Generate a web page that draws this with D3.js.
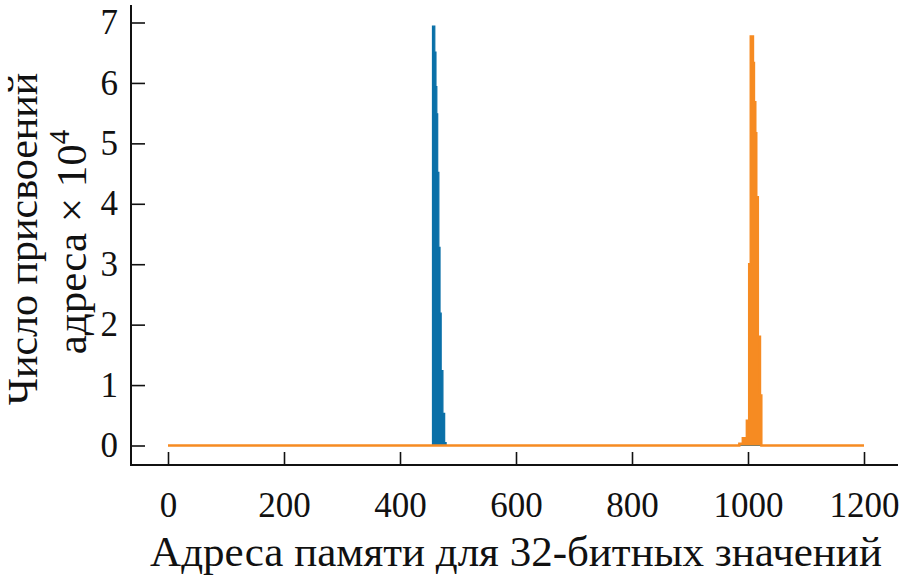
<!DOCTYPE html>
<html>
<head>
<meta charset="utf-8">
<script src="https://cdn.jsdelivr.net/npm/d3@7"></script>
<style>
  html, body { margin: 0; padding: 0; background: #fff; }
  svg { display: block; }
  text { font-family: "Liberation Serif", "Times New Roman", serif; fill: #111; }
</style>
</head>
<body>
<svg id="chart" width="904" height="583"></svg>
<script>
// ---- data (counts in units of 10^4) ----
const xTickValues = [0, 200, 400, 600, 800, 1000, 1200];
const yTickValues = [0, 1, 2, 3, 4, 5, 6, 7];

// blue series: step start addresses and counts
const blueAddr = [0, 456, 460, 462, 463.5, 465, 467, 469, 471, 474, 477, 479.5, 1200];
const blueVal  = [0, 6.94, 6.51, 5.94, 5.49, 4.52, 3.28, 2.19, 1.24, 0.53, 0.05, 0, 0];

// orange series
const orangeAddr = [0, 985, 991, 998, 1002, 1004.7, 1008.6, 1010.3, 1012.6, 1014.3, 1017, 1020.7, 1023, 1200];
const orangeVal  = [0, 0.03, 0.12, 0.41, 3.0, 6.77, 6.33, 5.68, 5.17, 4.11, 1.8, 0.83, 0, 0];

const xTitle = "Адреса памяти для 32-битных значений";
const yTitle1 = "Число присвоений";
const yTitle2 = "адреса × 10";
const yTitleSup = "4";

const blueColor = "#0a70a8";
const orangeColor = "#f68b22";

// ---- layout ----
const svg = d3.select("#chart");
const axisLeftX = 131, axisBottomY = 465, axisTopY = 5, axisRightX = 898;

const x = d3.scaleLinear().domain([0, 1200]).range([168, 864]);
const y = d3.scaleLinear().domain([0, 7]).range([445.5, 22.5]);

function series(addr, val) {
  return addr.map((a, i) => ({ a, v: val[i] }));
}

const area = d3.area()
  .x(d => x(d.a))
  .y0(y(0))
  .y1(d => y(d.v))
  .curve(d3.curveStepAfter);
const line = d3.line()
  .x(d => x(d.a))
  .y(d => y(d.v))
  .curve(d3.curveStepAfter);

const blue = series(blueAddr, blueVal);
const orange = series(orangeAddr, orangeVal);

svg.append("path").datum(blue).attr("d", area).attr("fill", blueColor);
svg.append("path").datum(blue).attr("d", line).attr("fill", "none")
  .attr("stroke", blueColor).attr("stroke-width", 1.2);
svg.append("path").datum(orange).attr("d", area).attr("fill", orangeColor);
svg.append("path").datum(orange).attr("d", line).attr("fill", "none")
  .attr("stroke", orangeColor).attr("stroke-width", 2.4);

// ---- axes ----
const yAxis = d3.axisLeft(y).tickValues(yTickValues).tickFormat(d3.format("d"))
  .tickSizeInner(-14).tickSizeOuter(0).tickPadding(13);
const gy = svg.append("g").attr("transform", `translate(${axisLeftX},0)`).call(yAxis);
gy.select(".domain").remove();
gy.selectAll("line").attr("stroke", "#111").attr("stroke-width", 1.6);
gy.selectAll("text").attr("font-size", 35).attr("font-family", "Liberation Serif, serif").attr("fill", "#111");

const xAxis = d3.axisBottom(x).tickValues(xTickValues).tickFormat(d3.format("d"))
  .tickSizeInner(-13).tickSizeOuter(0).tickPadding(0);
const gx = svg.append("g").attr("transform", `translate(0,${axisBottomY})`).call(xAxis);
gx.select(".domain").remove();
gx.selectAll("line").attr("stroke", "#111").attr("stroke-width", 1.6);
gx.selectAll("text").attr("font-size", 35).attr("font-family", "Liberation Serif, serif")
  .attr("fill", "#111").attr("dy", null).attr("y", 52);

// axis lines
svg.append("line").attr("x1", axisLeftX).attr("x2", axisLeftX)
  .attr("y1", axisTopY).attr("y2", axisBottomY + 1)
  .attr("stroke", "#111").attr("stroke-width", 2);
svg.append("line").attr("x1", axisLeftX - 1).attr("x2", axisRightX)
  .attr("y1", axisBottomY).attr("y2", axisBottomY)
  .attr("stroke", "#111").attr("stroke-width", 2);

// ---- titles ----
svg.append("text").attr("x", 516).attr("y", 566).attr("text-anchor", "middle")
  .attr("font-size", 43).text(xTitle);

svg.append("text").attr("transform", "translate(37,239) rotate(-90)")
  .attr("text-anchor", "middle").attr("font-size", 42).text(yTitle1);

const t2 = svg.append("text").attr("transform", "translate(86,242) rotate(-90)")
  .attr("text-anchor", "middle").attr("font-size", 43);
t2.append("tspan").text(yTitle2);
t2.append("tspan").attr("font-size", 29).attr("dy", -17).text(yTitleSup);
</script>
</body>
</html>
